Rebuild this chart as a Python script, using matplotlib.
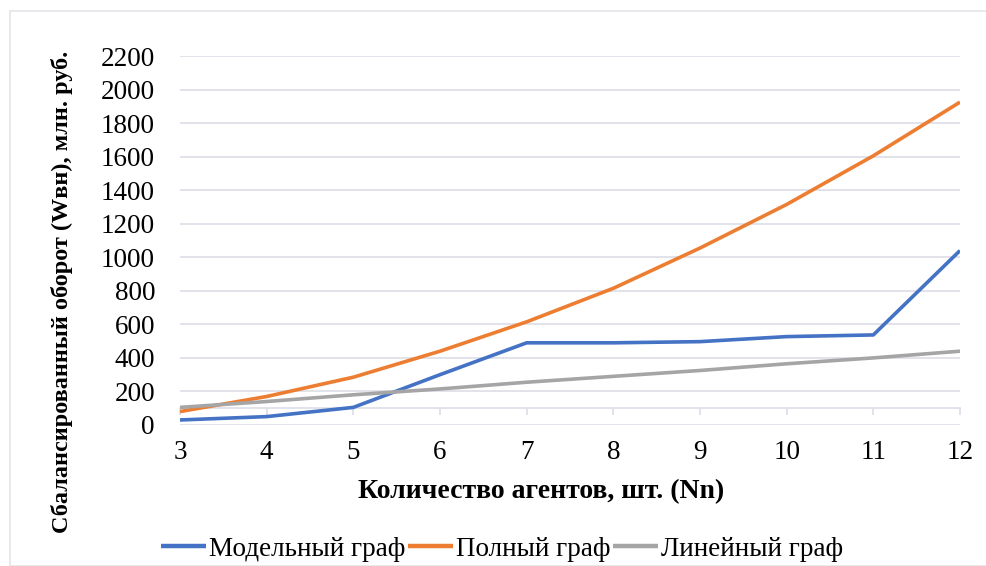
import matplotlib
matplotlib.use("Agg")
import matplotlib.pyplot as plt
from matplotlib.patches import Rectangle

# Data
agents = [3, 4, 5, 6, 7, 8, 9, 10, 11, 12]
model_graph = [30, 50, 105, 300, 490, 490, 497, 527, 537, 1040]
full_graph = [80, 170, 285, 440, 615, 815, 1055, 1315, 1605, 1925]
linear_graph = [105, 140, 180, 215, 255, 290, 325, 365, 400, 440]
y_ticks = list(range(0, 2201, 200))

plt.rcParams["font.family"] = ["Liberation Serif", "DejaVu Serif"]

fig = plt.figure(figsize=(9.86, 5.66), dpi=100)
W, H = 986, 566
ax = fig.add_axes([180 / W, 1 - 425 / H, 780 / W, 369 / H])

grid_col = "#dcdde6"
ax.plot(agents, model_graph, color="#4472C4", lw=2.6, label="Модельный граф", solid_capstyle="butt")
ax.plot(agents, full_graph, color="#ED7D31", lw=2.6, label="Полный граф", solid_capstyle="butt")
ax.plot(agents, linear_graph, color="#A5A5A5", lw=2.6, label="Линейный граф", solid_capstyle="butt")

ax.set_xlim(3, 12)
ax.set_ylim(0, 2200)
ax.set_yticks(y_ticks)
ax.set_xticks(agents)
ax.yaxis.grid(True, color=grid_col, lw=1.2)
ax.set_axisbelow(True)
for s in ax.spines.values():
    s.set_visible(False)
ax.tick_params(axis="y", length=0, pad=18, labelsize=19.5)
ax.tick_params(axis="x", length=0, pad=11, labelsize=19.5)

# category axis crossing at 100
sec = ax.secondary_xaxis(100 / 2200)
sec.set_xticks(agents)
sec.tick_params(length=5, color=grid_col, width=1.2, labelbottom=False, direction="out")
sec.spines["bottom"].set_color(grid_col)
sec.spines["bottom"].set_linewidth(1.2)

fig.text(541 / W, 1 - 492 / H, "Количество агентов, шт. (Nn)",
         ha="center", va="center", fontsize=20, fontweight="bold")
fig.text(62 / W, 1 - 292 / H, "Сбалансированный оборот (Wвн), млн. руб.",
         ha="center", va="center", rotation=90, fontsize=17.5, fontweight="bold")

fig.legend(loc="center", bbox_to_anchor=(502 / W, 1 - 549 / H), ncol=3, frameon=False,
           fontsize=19.5, handlelength=1.65, handletextpad=0.12, columnspacing=0.1,
           borderaxespad=0)
for line in fig.legends[0].get_lines():
    line.set_linewidth(3.2)

# outer chart frame
fig.patches.append(Rectangle((10 / W, 0), 2, 1 - 11 / H, transform=fig.transFigure,
                             fill=False, edgecolor="#e3e5ea", lw=1.2))

fig.savefig("out.png", dpi=100)
